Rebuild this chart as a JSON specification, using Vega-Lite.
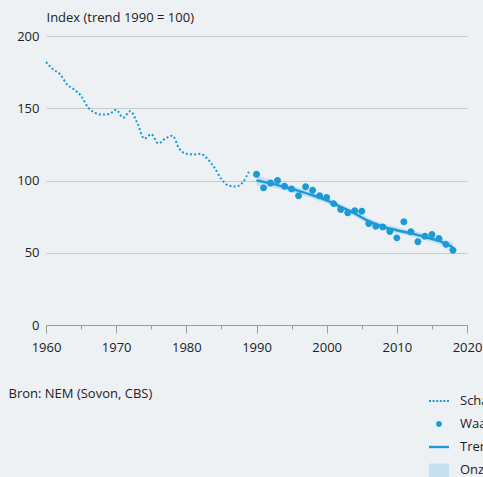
{
  "$schema": "https://vega.github.io/schema/vega-lite/v6.json",
  "width": 421,
  "height": 289,
  "autosize": {"type": "none"},
  "padding": {"left": 46, "top": 36, "right": 16, "bottom": 152},
  "background": "#edf1f4",
  "config": {
    "view": {"stroke": null},
    "font": "Open Sans",
    "axis": {
      "labelFont": "Open Sans",
      "titleFont": "Open Sans",
      "labelFontSize": 13,
      "titleFontSize": 13,
      "labelColor": "#222222",
      "titleColor": "#222222",
      "titleFontWeight": "normal"
    },
    "axisY": {
      "domain": false,
      "ticks": false,
      "tickSize": 0,
      "labelPadding": 7,
      "gridColor": "#c8cbce",
      "gridWidth": 1,
      "tickCount": 4,
      "titleAngle": 0,
      "titleAlign": "left",
      "titleBaseline": "middle",
      "titleX": 0,
      "titleY": -19
    },
    "legend": {
      "labelFont": "Open Sans",
      "labelFontSize": 13,
      "labelColor": "#222222",
      "padding": 0,
      "rowPadding": 6,
      "labelOffset": 11,
      "symbolSize": 400,
      "symbolStrokeWidth": 0
    }
  },
  "datasets": {
    "schatting": [
      {"year": 1960, "value": 182},
      {"year": 1961, "value": 177},
      {"year": 1962, "value": 173.5},
      {"year": 1963, "value": 166.5},
      {"year": 1964, "value": 163},
      {"year": 1965, "value": 158.5},
      {"year": 1966, "value": 150.5},
      {"year": 1967, "value": 146.8},
      {"year": 1968, "value": 145.6},
      {"year": 1969, "value": 146},
      {"year": 1970, "value": 149},
      {"year": 1971, "value": 143.5},
      {"year": 1972, "value": 148},
      {"year": 1973, "value": 140},
      {"year": 1974, "value": 129},
      {"year": 1975, "value": 132},
      {"year": 1976, "value": 125.7},
      {"year": 1977, "value": 129},
      {"year": 1978, "value": 131},
      {"year": 1979, "value": 122},
      {"year": 1980, "value": 118.5},
      {"year": 1981, "value": 118},
      {"year": 1982, "value": 118.5},
      {"year": 1983, "value": 115},
      {"year": 1984, "value": 109},
      {"year": 1985, "value": 101},
      {"year": 1986, "value": 96.5},
      {"year": 1987, "value": 95.8},
      {"year": 1988, "value": 98.5},
      {"year": 1989, "value": 107}
    ],
    "waarneming": [
      {"year": 1990, "value": 104.3, "series": "Waarneming"},
      {"year": 1991, "value": 94.9, "series": "Waarneming"},
      {"year": 1992, "value": 98.3, "series": "Waarneming"},
      {"year": 1993, "value": 100, "series": "Waarneming"},
      {"year": 1994, "value": 96, "series": "Waarneming"},
      {"year": 1995, "value": 94.2, "series": "Waarneming"},
      {"year": 1996, "value": 89.4, "series": "Waarneming"},
      {"year": 1997, "value": 95.6, "series": "Waarneming"},
      {"year": 1998, "value": 93.3, "series": "Waarneming"},
      {"year": 1999, "value": 89.4, "series": "Waarneming"},
      {"year": 2000, "value": 88.2, "series": "Waarneming"},
      {"year": 2001, "value": 84, "series": "Waarneming"},
      {"year": 2002, "value": 79.9, "series": "Waarneming"},
      {"year": 2003, "value": 77.6, "series": "Waarneming"},
      {"year": 2004, "value": 79, "series": "Waarneming"},
      {"year": 2005, "value": 78.8, "series": "Waarneming"},
      {"year": 2006, "value": 70.2, "series": "Waarneming"},
      {"year": 2007, "value": 68.4, "series": "Waarneming"},
      {"year": 2008, "value": 67.9, "series": "Waarneming"},
      {"year": 2009, "value": 64.7, "series": "Waarneming"},
      {"year": 2010, "value": 60.3, "series": "Waarneming"},
      {"year": 2011, "value": 71.4, "series": "Waarneming"},
      {"year": 2012, "value": 64.5, "series": "Waarneming"},
      {"year": 2013, "value": 57.6, "series": "Waarneming"},
      {"year": 2014, "value": 61.5, "series": "Waarneming"},
      {"year": 2015, "value": 62.7, "series": "Waarneming"},
      {"year": 2016, "value": 59.9, "series": "Waarneming"},
      {"year": 2017, "value": 55.8, "series": "Waarneming"},
      {"year": 2018, "value": 51.8, "series": "Waarneming"}
    ],
    "trend": [
      {"year": 1990, "trend": 100, "lo": 96.3, "hi": 103.7},
      {"year": 1992, "trend": 98, "lo": 95.4, "hi": 100.6},
      {"year": 1994, "trend": 95.5, "lo": 93.2, "hi": 97.8},
      {"year": 1996, "trend": 92.8, "lo": 90.6, "hi": 95},
      {"year": 1998, "trend": 89.8, "lo": 87.6, "hi": 92},
      {"year": 2000, "trend": 86.3, "lo": 84.2, "hi": 88.4},
      {"year": 2002, "trend": 81.8, "lo": 79.8, "hi": 83.8},
      {"year": 2004, "trend": 77.2, "lo": 75.2, "hi": 79.2},
      {"year": 2006, "trend": 71.8, "lo": 69.8, "hi": 73.8},
      {"year": 2008, "trend": 68, "lo": 66, "hi": 70},
      {"year": 2010, "trend": 65.6, "lo": 63.6, "hi": 67.6},
      {"year": 2012, "trend": 63.4, "lo": 61.3, "hi": 65.5},
      {"year": 2014, "trend": 61, "lo": 58.8, "hi": 63.2},
      {"year": 2016, "trend": 58.2, "lo": 55.8, "hi": 60.6},
      {"year": 2018, "trend": 53.8, "lo": 50.5, "hi": 57.1}
    ]
  },
  "encoding": {
    "x": {
      "field": "year",
      "type": "quantitative",
      "scale": {"domain": [1960, 2020], "nice": false, "zero": false},
      "axis": {
        "values": [1960, 1965, 1970, 1975, 1980, 1985, 1990, 1995, 2000, 2005, 2010, 2015, 2020],
        "format": "d",
        "labelExpr": "datum.value % 10 === 0 ? datum.label : ''",
        "tickSize": {"condition": {"test": "datum.value % 10 === 0", "value": 8}, "value": 4},
        "grid": false,
        "domainColor": "#9b9b9b",
        "tickColor": "#9b9b9b",
        "labelFlush": false,
        "labelOverlap": false,
        "labelPadding": 8,
        "title": "Bron: NEM (Sovon, CBS)",
        "titleAnchor": "start",
        "titleAlign": "left",
        "titleBaseline": "middle",
        "titleX": -38,
        "titleY": 68
      }
    }
  },
  "layer": [
    {
      "data": {"name": "trend"},
      "mark": {"type": "area", "color": "#bcdcef", "opacity": 0.85},
      "encoding": {
        "y": {"field": "lo", "type": "quantitative", "scale": {"domain": [0, 200], "nice": false}, "title": "Index (trend 1990 = 100)"},
        "y2": {"field": "hi"}
      }
    },
    {
      "data": {"name": "schatting"},
      "mark": {"type": "line", "color": "#1b9ad7", "strokeWidth": 2, "strokeDash": [2, 2.2], "interpolate": "monotone"},
      "encoding": {
        "y": {"field": "value", "type": "quantitative", "scale": {"domain": [0, 200], "nice": false}, "title": "Index (trend 1990 = 100)"}
      }
    },
    {
      "data": {"name": "trend"},
      "mark": {"type": "line", "color": "#1b9ad7", "strokeWidth": 2.5, "interpolate": "monotone"},
      "encoding": {
        "y": {"field": "trend", "type": "quantitative", "scale": {"domain": [0, 200], "nice": false}, "title": "Index (trend 1990 = 100)"}
      }
    },
    {
      "data": {"name": "waarneming"},
      "mark": {"type": "point", "filled": true, "opacity": 1, "size": 540},
      "encoding": {
        "y": {"field": "value", "type": "quantitative", "scale": {"domain": [0, 200], "nice": false}, "title": "Index (trend 1990 = 100)"},
        "color": {
          "field": "series",
          "type": "nominal",
          "scale": {
            "domain": ["Schatting", "Waarneming", "Trend", "Onzekerheidsmarge"],
            "range": ["#1b9ad7", "#1b9ad7", "#1b9ad7", "#c6e0f0"]
          },
          "legend": {"orient": "none", "legendX": 383, "legendY": 355, "title": null}
        },
        "shape": {
          "field": "series",
          "type": "nominal",
          "scale": {
            "domain": ["Schatting", "Waarneming", "Trend", "Onzekerheidsmarge"],
            "range": [
              "M-1,-0.1h0.2v0.2h-0.2zM-0.64,-0.1h0.2v0.2h-0.2zM-0.28,-0.1h0.2v0.2h-0.2zM0.08,-0.1h0.2v0.2h-0.2zM0.44,-0.1h0.2v0.2h-0.2zM0.8,-0.1h0.2v0.2h-0.2z",
              "M0.3,0A0.3,0.3,0,1,1,-0.3,0A0.3,0.3,0,1,1,0.3,0Z",
              "M-1,-0.12H1V0.12H-1Z",
              "M-1,-0.65H1V1.1H-1Z"
            ]
          },
          "legend": {"orient": "none", "legendX": 383, "legendY": 355, "title": null}
        }
      }
    }
  ]
}
